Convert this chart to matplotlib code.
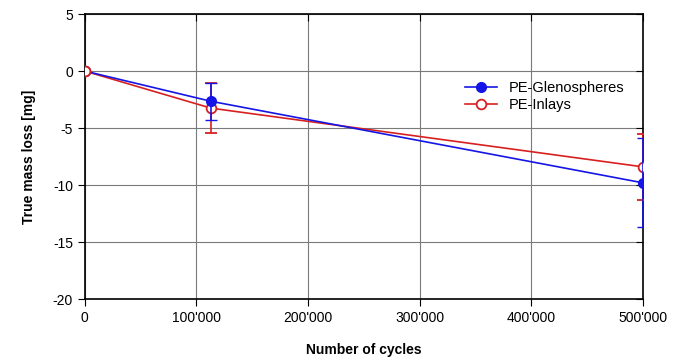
import matplotlib
matplotlib.use("Agg")
import matplotlib.pyplot as plt
from matplotlib.ticker import FuncFormatter
from matplotlib.lines import Line2D

plt.rcParams['font.family'] = ['Liberation Sans', 'DejaVu Sans']
plt.rcParams['axes.unicode_minus'] = False

cycles = [0, 113000, 500000]
glen_loss = [0, -2.65, -9.8]
glen_err = [float('nan'), 1.6, 3.9]
inlay_loss = [0, -3.25, -8.4]
inlay_err = [float('nan'), 2.2, 2.9]

blue = '#1515e6'
red = '#d92020'

fig = plt.figure(figsize=(6.84, 3.6), dpi=100)
ax = fig.add_axes([0.124, 0.169, 0.816, 0.792])

ax.errorbar(cycles, inlay_loss, yerr=inlay_err, color=red, marker='o', ms=7,
            mfc='white', mew=1.3, lw=1.2, capsize=4, elinewidth=1.2, zorder=3)
ax.errorbar(cycles, glen_loss, yerr=glen_err, color=blue, marker='o', ms=7,
            lw=1.2, capsize=4, elinewidth=1.2, zorder=4)
# the red open circle sits on top at the origin
ax.plot(cycles[:1], inlay_loss[:1], color=red, marker='o', ms=7, mfc='white',
        mew=1.3, ls='none', zorder=5)

ax.set_xlim(0, 500000)
ax.set_ylim(-20, 5)
ax.set_xticks([0, 100000, 200000, 300000, 400000, 500000])
ax.set_yticks([-20, -15, -10, -5, 0, 5])
ax.xaxis.set_major_formatter(FuncFormatter(lambda v, p: "0" if v == 0 else f"{int(v):,}".replace(",", "'")))
ax.grid(True, color='#7a7a7a', lw=0.8)
ax.tick_params(labelsize=10, direction='out', length=5)
ax.tick_params(top=True, right=True, labeltop=False, labelright=False)
for t in ax.xaxis.get_major_ticks():
    t.tick2line.set_marker(3)
for t in ax.yaxis.get_major_ticks():
    t.tick2line.set_marker(0)
for s in ax.spines.values():
    s.set_linewidth(1.2)

ax.set_xlabel("Number of cycles", fontweight='bold', fontsize=10, labelpad=13)
ax.set_ylabel("True mass loss [mg]", fontweight='bold', fontsize=10, labelpad=12)

handles = [Line2D([], [], color=blue, marker='o', ms=7, lw=1.2),
           Line2D([], [], color=red, marker='o', ms=7, mfc='white', mew=1.3, lw=1.2)]
ax.legend(handles, ['PE-Glenospheres', 'PE-Inlays'], loc='upper right',
          bbox_to_anchor=(0.985, 0.8), frameon=False, fontsize=10.5,
          handlelength=2.2, labelspacing=0.2, borderaxespad=0.3)

fig.savefig("out.png", dpi=100)
